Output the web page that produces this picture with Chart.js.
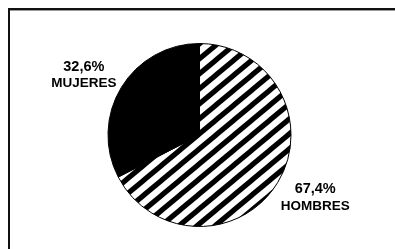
<!DOCTYPE html>
<html>
<head>
<meta charset="utf-8">
<script src="https://cdn.jsdelivr.net/npm/chart.js@4/dist/chart.umd.min.js"></script>
<style>
html,body{margin:0;padding:0;background:#fff;}
#wrap{position:relative;width:395px;height:249px;}
canvas{display:block;}
</style>
</head>
<body>
<div id="wrap"><canvas id="c" width="395" height="249"></canvas></div>
<script>
const categories = ['HOMBRES', 'MUJERES'];
const values = [67.4, 32.6];

function fmt(v){ return v.toFixed(1).replace('.', ',') + '%'; }

function makeStripes(){
  const w = 18, h = 15;
  const t = document.createElement('canvas');
  t.width = w; t.height = h;
  const g = t.getContext('2d');
  g.fillStyle = '#fff';
  g.fillRect(0,0,w,h);
  g.strokeStyle = '#000';
  g.lineWidth = 5.2;
  for (let k = -2; k <= 2; k++) {
    g.beginPath();
    g.moveTo(k * w - w, h + h);
    g.lineTo(k * w + 2 * w, -h);
    g.stroke();
  }
  return g.createPattern(t, 'repeat');
}

const ctx = document.getElementById('c').getContext('2d');
const stripes = makeStripes();

const framePlugin = {
  id: 'frame',
  beforeDraw(chart){
    const g = chart.ctx;
    g.save();
    g.fillStyle = '#111';
    g.fillRect(8, 8, 395 - 8, 2);
    g.fillRect(8, 8, 2, 249 - 8);
    g.fillStyle = '#999';
    g.fillRect(10, 10, 395 - 10, 1);
    g.restore();
  }
};

const labelPlugin = {
  id: 'outLabels',
  afterDatasetsDraw(chart){
    const g = chart.ctx;
    const meta = chart.getDatasetMeta(0);
    g.save();
    g.fillStyle = '#000';
    g.textAlign = 'center';
    g.textBaseline = 'middle';
    meta.data.forEach((arc, i) => {
      const p = arc.getProps(['x','y','startAngle','endAngle','outerRadius'], true);
      const mid = (p.startAngle + p.endAngle) / 2;
      const cx = p.x + Math.cos(mid) * p.outerRadius * 1.48;
      const cy = p.y + Math.sin(mid) * p.outerRadius * 1.29 + 1.5;
      g.font = 'bold 14.5px "Liberation Sans", Arial, sans-serif';
      g.fillText(fmt(values[i]), cx, cy - 8.5);
      g.font = 'bold 13.5px "Liberation Sans", Arial, sans-serif';
      g.fillText(categories[i], cx, cy + 8.5);
    });
    g.restore();
  }
};

new Chart(ctx, {
  type: 'pie',
  data: {
    labels: categories,
    datasets: [{
      data: values,
      backgroundColor: [stripes, '#000'],
      borderColor: '#000',
      borderWidth: 1
    }]
  },
  options: {
    responsive: false,
    animation: false,
    layout: { padding: { top: 43, bottom: 22, left: 107, right: 103 } },
    plugins: { legend: { display: false }, tooltip: { enabled: false } }
  },
  plugins: [framePlugin, labelPlugin]
});
</script>
</body>
</html>
